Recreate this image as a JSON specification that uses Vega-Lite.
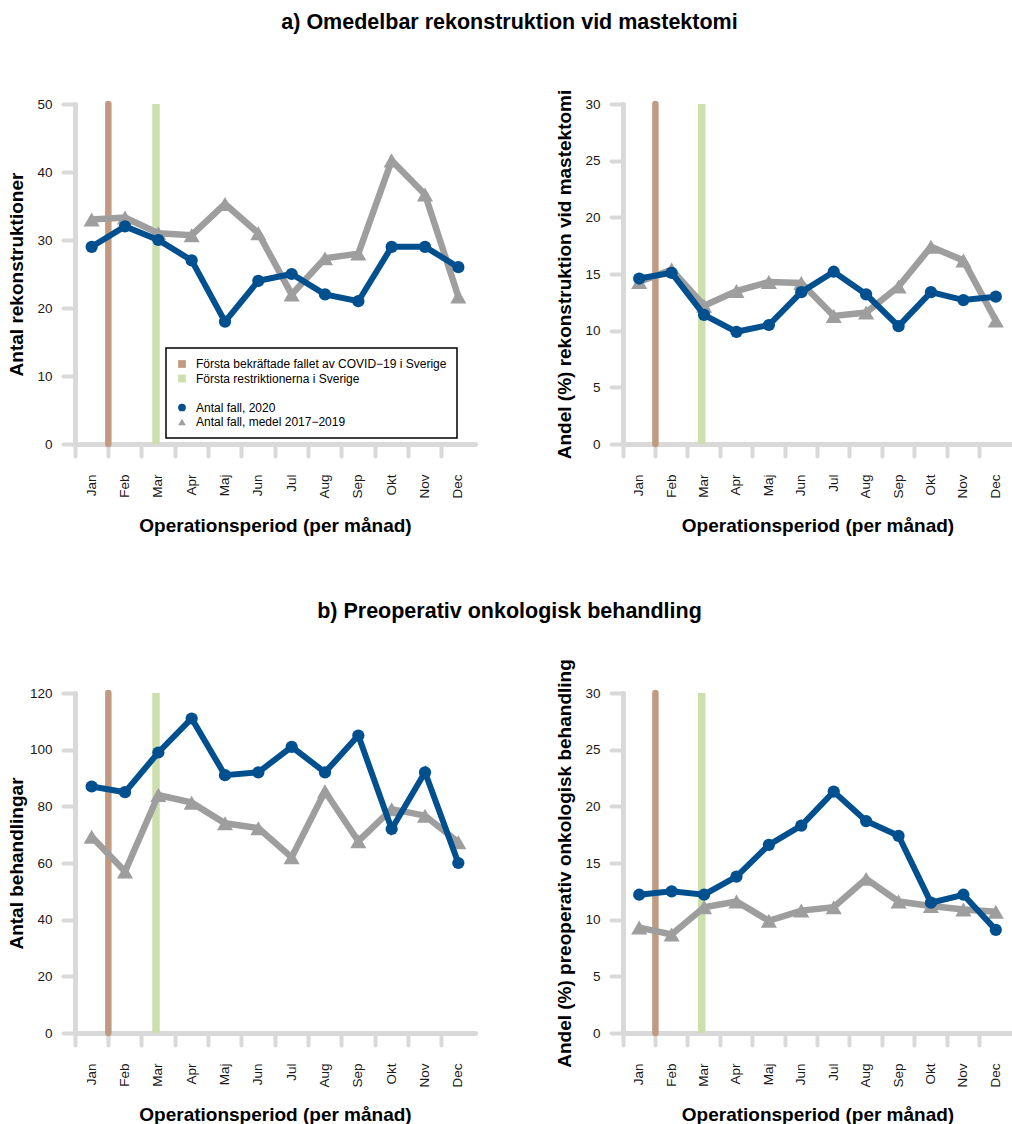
{
  "$schema": "https://vega.github.io/schema/vega-lite/v6.json",
  "padding": {"left": 7, "top": 11, "right": 0, "bottom": 0},
  "background": "white",
  "datasets": {
    "d": [
      {"manad": "Jan", "serie": "2020", "rek_antal": 29, "rek_andel": 14.6, "preop_antal": 87, "preop_andel": 12.2},
      {"manad": "Feb", "serie": "2020", "rek_antal": 32, "rek_andel": 15.1, "preop_antal": 85, "preop_andel": 12.5},
      {"manad": "Mar", "serie": "2020", "rek_antal": 30, "rek_andel": 11.4, "preop_antal": 99, "preop_andel": 12.2},
      {"manad": "Apr", "serie": "2020", "rek_antal": 27, "rek_andel": 9.9, "preop_antal": 111, "preop_andel": 13.8},
      {"manad": "Maj", "serie": "2020", "rek_antal": 18, "rek_andel": 10.5, "preop_antal": 91, "preop_andel": 16.6},
      {"manad": "Jun", "serie": "2020", "rek_antal": 24, "rek_andel": 13.4, "preop_antal": 92, "preop_andel": 18.3},
      {"manad": "Jul", "serie": "2020", "rek_antal": 25, "rek_andel": 15.2, "preop_antal": 101, "preop_andel": 21.3},
      {"manad": "Aug", "serie": "2020", "rek_antal": 22, "rek_andel": 13.2, "preop_antal": 92, "preop_andel": 18.7},
      {"manad": "Sep", "serie": "2020", "rek_antal": 21, "rek_andel": 10.4, "preop_antal": 105, "preop_andel": 17.4},
      {"manad": "Okt", "serie": "2020", "rek_antal": 29, "rek_andel": 13.4, "preop_antal": 72, "preop_andel": 11.5},
      {"manad": "Nov", "serie": "2020", "rek_antal": 29, "rek_andel": 12.7, "preop_antal": 92, "preop_andel": 12.2},
      {"manad": "Dec", "serie": "2020", "rek_antal": 26, "rek_andel": 13.0, "preop_antal": 60, "preop_andel": 9.1},
      {"manad": "Jan", "serie": "medel", "rek_antal": 33, "rek_andel": 14.3, "preop_antal": 69.3, "preop_andel": 9.3},
      {"manad": "Feb", "serie": "medel", "rek_antal": 33.3, "rek_andel": 15.4, "preop_antal": 57, "preop_andel": 8.7},
      {"manad": "Mar", "serie": "medel", "rek_antal": 31, "rek_andel": 12.2, "preop_antal": 84, "preop_andel": 11.1},
      {"manad": "Apr", "serie": "medel", "rek_antal": 30.7, "rek_andel": 13.5, "preop_antal": 81.3, "preop_andel": 11.6},
      {"manad": "Maj", "serie": "medel", "rek_antal": 35.3, "rek_andel": 14.3, "preop_antal": 74, "preop_andel": 9.9},
      {"manad": "Jun", "serie": "medel", "rek_antal": 31, "rek_andel": 14.2, "preop_antal": 72.3, "preop_andel": 10.8},
      {"manad": "Jul", "serie": "medel", "rek_antal": 22, "rek_andel": 11.3, "preop_antal": 62, "preop_andel": 11.1},
      {"manad": "Aug", "serie": "medel", "rek_antal": 27.3, "rek_andel": 11.6, "preop_antal": 85.3, "preop_andel": 13.6},
      {"manad": "Sep", "serie": "medel", "rek_antal": 28, "rek_andel": 13.9, "preop_antal": 67.7, "preop_andel": 11.6},
      {"manad": "Okt", "serie": "medel", "rek_antal": 41.7, "rek_andel": 17.4, "preop_antal": 79, "preop_andel": 11.2},
      {"manad": "Nov", "serie": "medel", "rek_antal": 36.7, "rek_andel": 16.2, "preop_antal": 76.7, "preop_andel": 10.9},
      {"manad": "Dec", "serie": "medel", "rek_antal": 21.7, "rek_andel": 10.9, "preop_antal": 67.3, "preop_andel": 10.7}
    ],
    "legend": [
      {"post": "Första bekräftade fallet av COVID−19 i Sverige"},
      {"post": "Första restriktionerna i Sverige"},
      {"post": " "},
      {"post": "Antal fall, 2020"},
      {"post": "Antal fall, medel 2017−2019"}
    ]
  },
  "config": {
    "view": {"stroke": null},
    "font": "Liberation Sans",
    "title": {"font": "Liberation Sans", "fontWeight": "bold", "fontSize": 21.5, "color": "black", "anchor": "middle"},
    "axis": {
      "domainColor": "#d9d9d9", "domainWidth": 5, "domainCap": "round",
      "tickColor": "#d9d9d9", "tickWidth": 4, "tickCap": "round", "tickSize": 12,
      "labelFont": "Liberation Sans", "labelFontSize": 13.5, "labelColor": "#1a1a1a",
      "titleFont": "Liberation Sans", "titleFontSize": 19, "titleFontWeight": "bold", "titleColor": "black",
      "titleBaseline": "alphabetic", "grid": false, "labelPadding": 11
    },
    "axisX": {"bandPosition": 0, "tickExtra": false, "labelAngle": -90, "labelPadding": 18, "titleY": 87.5},
    "legend": {"labelFont": "Liberation Sans", "labelFontSize": 12, "labelColor": "black", "strokeWidth": 1.5, "labelLimit": 400}
  },
  "spacing": 65,
  "vconcat": [
    {
      "title": {"text": "a) Omedelbar rekonstruktion vid mastektomi", "offset": 56},
      "spacing": 79,
      "hconcat": [
        {
          "width": 400, "height": 340,
          "layer": [
            {"data": {"values": [{}]}, "mark": {"type": "rule", "color": "#c09b82", "strokeWidth": 6.5, "strokeCap": "round"},
             "encoding": {"x": {"datum": "Feb", "type": "ordinal", "bandPosition": 0}}},
            {"data": {"values": [{}]}, "mark": {"type": "rule", "color": "#cce0ad", "strokeWidth": 7.5},
             "encoding": {"x": {"datum": "Mar", "type": "ordinal", "bandPosition": 0.43}}},
            {"data": {"name": "d"}, "transform": [{"filter": "datum.serie === 'medel'"}],
             "mark": {"type": "line", "color": "#9e9e9e", "strokeWidth": 6.5, "point": {"shape": "triangle-up", "size": 260, "filled": true, "color": "#9e9e9e", "opacity": 1}},
             "encoding": {
               "x": {"field": "manad", "type": "ordinal", "scale": {"type": "band", "domain": ["Jan","Feb","Mar","Apr","Maj","Jun","Jul","Aug","Sep","Okt","Nov","Dec"], "paddingInner": 0, "paddingOuter": 0}, "title": "Operationsperiod (per månad)"},
               "y": {"field": "rek_antal", "type": "quantitative", "scale": {"domain": [0, 50], "nice": false}, "axis": {"values": [0, 10, 20, 30, 40, 50], "titleX": -53}, "title": "Antal rekonstruktioner"}
             }},
            {"data": {"name": "d"}, "transform": [{"filter": "datum.serie === '2020'"}],
             "mark": {"type": "line", "color": "#00508f", "strokeWidth": 6, "point": {"shape": "circle", "size": 150, "filled": true, "color": "#00508f", "opacity": 1}},
             "encoding": {
               "x": {"field": "manad", "type": "ordinal"},
               "y": {"field": "rek_antal", "type": "quantitative"}
             }},
            {"data": {"name": "legend"}, "transform": [{"filter": "false"}],
             "mark": {"type": "point", "filled": true, "opacity": 1},
             "encoding": {
               "color": {"field": "post", "type": "nominal",
                 "scale": {"domain": ["Första bekräftade fallet av COVID−19 i Sverige", "Första restriktionerna i Sverige", " ", "Antal fall, 2020", "Antal fall, medel 2017−2019"],
                           "range": ["#c09b82", "#cce0ad", "transparent", "#00508f", "#9e9e9e"]},
                 "legend": {"orient": "none", "legendX": 91, "legendY": 244, "title": null, "strokeColor": "black", "fillColor": "white", "padding": 10, "rowPadding": 2.5, "labelOffset": 8, "symbolSize": 60, "symbolStrokeWidth": 0, "symbolOpacity": 1}},
               "shape": {"field": "post", "type": "nominal",
                 "scale": {"domain": ["Första bekräftade fallet av COVID−19 i Sverige", "Första restriktionerna i Sverige", " ", "Antal fall, 2020", "Antal fall, medel 2017−2019"],
                           "range": ["square", "square", "square", "circle", "triangle-up"]}}
             }}
          ]
        },
        {
          "width": 389, "height": 340,
          "layer": [
            {"data": {"values": [{}]}, "mark": {"type": "rule", "color": "#c09b82", "strokeWidth": 6.5, "strokeCap": "round"},
             "encoding": {"x": {"datum": "Feb", "type": "ordinal", "bandPosition": 0}}},
            {"data": {"values": [{}]}, "mark": {"type": "rule", "color": "#cce0ad", "strokeWidth": 7.5},
             "encoding": {"x": {"datum": "Mar", "type": "ordinal", "bandPosition": 0.43}}},
            {"data": {"name": "d"}, "transform": [{"filter": "datum.serie === 'medel'"}],
             "mark": {"type": "line", "color": "#9e9e9e", "strokeWidth": 6.5, "point": {"shape": "triangle-up", "size": 260, "filled": true, "color": "#9e9e9e", "opacity": 1}},
             "encoding": {
               "x": {"field": "manad", "type": "ordinal", "scale": {"type": "band", "domain": ["Jan","Feb","Mar","Apr","Maj","Jun","Jul","Aug","Sep","Okt","Nov","Dec"], "paddingInner": 0, "paddingOuter": 0}, "title": "Operationsperiod (per månad)"},
               "y": {"field": "rek_andel", "type": "quantitative", "scale": {"domain": [0, 30], "nice": false}, "axis": {"values": [0, 5, 10, 15, 20, 25, 30], "titleX": -53}, "title": "Andel (%) rekonstruktion vid mastektomi"}
             }},
            {"data": {"name": "d"}, "transform": [{"filter": "datum.serie === '2020'"}],
             "mark": {"type": "line", "color": "#00508f", "strokeWidth": 6, "point": {"shape": "circle", "size": 150, "filled": true, "color": "#00508f", "opacity": 1}},
             "encoding": {
               "x": {"field": "manad", "type": "ordinal"},
               "y": {"field": "rek_andel", "type": "quantitative"}
             }}
          ]
        }
      ]
    },
    {
      "title": {"text": "b) Preoperativ onkologisk behandling", "offset": 36},
      "spacing": 79,
      "hconcat": [
        {
          "width": 400, "height": 340,
          "layer": [
            {"data": {"values": [{}]}, "mark": {"type": "rule", "color": "#c09b82", "strokeWidth": 6.5, "strokeCap": "round"},
             "encoding": {"x": {"datum": "Feb", "type": "ordinal", "bandPosition": 0}}},
            {"data": {"values": [{}]}, "mark": {"type": "rule", "color": "#cce0ad", "strokeWidth": 7.5},
             "encoding": {"x": {"datum": "Mar", "type": "ordinal", "bandPosition": 0.43}}},
            {"data": {"name": "d"}, "transform": [{"filter": "datum.serie === 'medel'"}],
             "mark": {"type": "line", "color": "#9e9e9e", "strokeWidth": 6.5, "point": {"shape": "triangle-up", "size": 260, "filled": true, "color": "#9e9e9e", "opacity": 1}},
             "encoding": {
               "x": {"field": "manad", "type": "ordinal", "scale": {"type": "band", "domain": ["Jan","Feb","Mar","Apr","Maj","Jun","Jul","Aug","Sep","Okt","Nov","Dec"], "paddingInner": 0, "paddingOuter": 0}, "title": "Operationsperiod (per månad)"},
               "y": {"field": "preop_antal", "type": "quantitative", "scale": {"domain": [0, 120], "nice": false}, "axis": {"values": [0, 20, 40, 60, 80, 100, 120], "titleX": -53}, "title": "Antal behandlingar"}
             }},
            {"data": {"name": "d"}, "transform": [{"filter": "datum.serie === '2020'"}],
             "mark": {"type": "line", "color": "#00508f", "strokeWidth": 6, "point": {"shape": "circle", "size": 150, "filled": true, "color": "#00508f", "opacity": 1}},
             "encoding": {
               "x": {"field": "manad", "type": "ordinal"},
               "y": {"field": "preop_antal", "type": "quantitative"}
             }}
          ]
        },
        {
          "width": 389, "height": 340,
          "layer": [
            {"data": {"values": [{}]}, "mark": {"type": "rule", "color": "#c09b82", "strokeWidth": 6.5, "strokeCap": "round"},
             "encoding": {"x": {"datum": "Feb", "type": "ordinal", "bandPosition": 0}}},
            {"data": {"values": [{}]}, "mark": {"type": "rule", "color": "#cce0ad", "strokeWidth": 7.5},
             "encoding": {"x": {"datum": "Mar", "type": "ordinal", "bandPosition": 0.43}}},
            {"data": {"name": "d"}, "transform": [{"filter": "datum.serie === 'medel'"}],
             "mark": {"type": "line", "color": "#9e9e9e", "strokeWidth": 6.5, "point": {"shape": "triangle-up", "size": 260, "filled": true, "color": "#9e9e9e", "opacity": 1}},
             "encoding": {
               "x": {"field": "manad", "type": "ordinal", "scale": {"type": "band", "domain": ["Jan","Feb","Mar","Apr","Maj","Jun","Jul","Aug","Sep","Okt","Nov","Dec"], "paddingInner": 0, "paddingOuter": 0}, "title": "Operationsperiod (per månad)"},
               "y": {"field": "preop_andel", "type": "quantitative", "scale": {"domain": [0, 30], "nice": false}, "axis": {"values": [0, 5, 10, 15, 20, 25, 30], "titleX": -53}, "title": "Andel (%) preoperativ onkologisk behandling"}
             }},
            {"data": {"name": "d"}, "transform": [{"filter": "datum.serie === '2020'"}],
             "mark": {"type": "line", "color": "#00508f", "strokeWidth": 6, "point": {"shape": "circle", "size": 150, "filled": true, "color": "#00508f", "opacity": 1}},
             "encoding": {
               "x": {"field": "manad", "type": "ordinal"},
               "y": {"field": "preop_andel", "type": "quantitative"}
             }}
          ]
        }
      ]
    }
  ]
}
